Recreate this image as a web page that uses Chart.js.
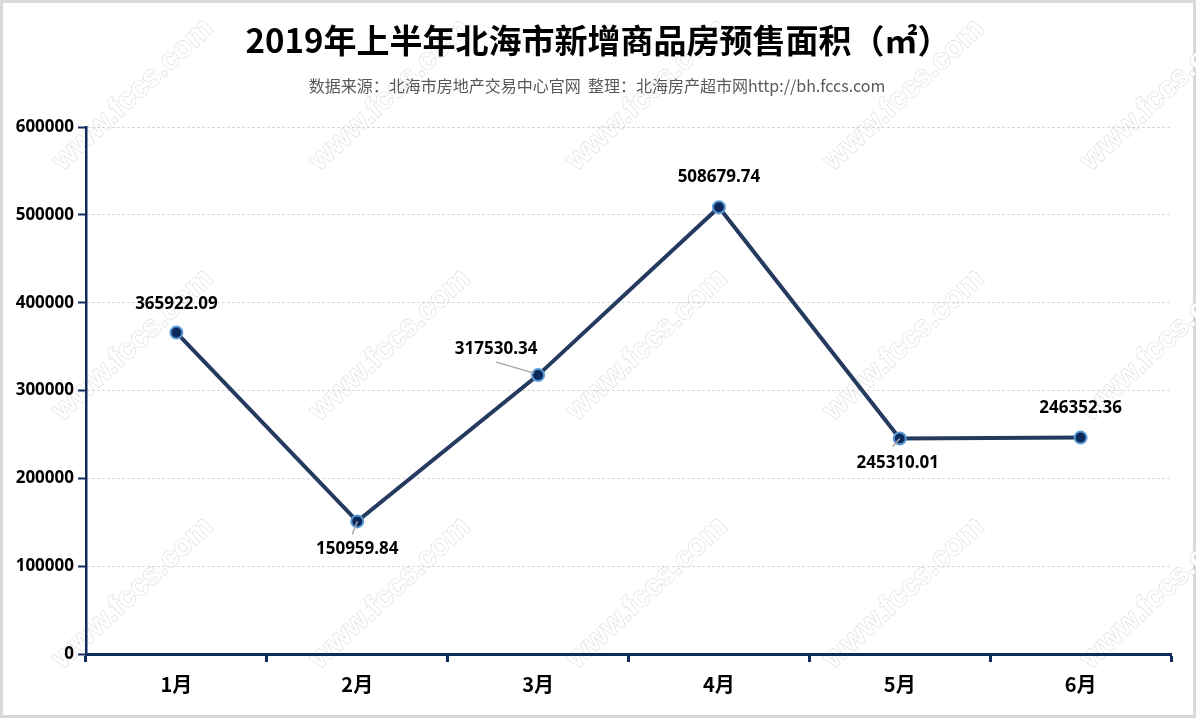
<!DOCTYPE html>
<html>
<head>
<meta charset="utf-8">
<script src="https://cdn.jsdelivr.net/npm/chart.js@4"></script>
<style>
  html, body { margin: 0; padding: 0; background: #fff; }
  canvas { display: block; }
</style>
</head>
<body>
<canvas id="c" width="1196" height="718"></canvas>
<script>
// ---- data ----
const titleText = '2019年上半年北海市新增商品房预售面积（㎡）';
const subtitleText = '数据来源：北海市房地产交易中心官网  整理：北海房产超市网http://bh.fccs.com';
const months = ['1月', '2月', '3月', '4月', '5月', '6月'];
const presaleArea = [365922.09, 150959.84, 317530.34, 508679.74, 245310.01, 246352.36];
const yTicks = [0, 100000, 200000, 300000, 400000, 500000, 600000];
const watermarkText = 'www.fccs.com';

// ---- styles ----
const NAVY = '#0f2a5c';
const labelOffsets = [
  {dx: 0, dy: -28},
  {dx: 0, dy: 28, lx: -5, ly: 13},
  {dx: -42, dy: -26, lx: -42, ly: -13, lsx: -4, lsy: -2},
  {dx: 0, dy: -30},
  {dx: -2, dy: 25, lx: -7, ly: 8},
  {dx: 0, dy: -29}
];

const framePlugin = {
  id: 'frame',
  beforeDraw(chart) {
    const ctx = chart.ctx;
    ctx.save();
    ctx.fillStyle = '#fff';
    ctx.fillRect(0, 0, chart.width, chart.height);
    ctx.strokeStyle = '#d9d9d9';
    ctx.lineWidth = 3;
    ctx.strokeRect(1.5, 1.5, chart.width - 3, chart.height - 3);
    // watermarks
    ctx.font = 'bold 30px "Liberation Sans", Arial, sans-serif';
    ctx.textAlign = 'center';
    ctx.textBaseline = 'middle';
    const xs = [133, 390, 647, 904, 1161];
    const ys = [95, 345, 593];
    ys.forEach(y => xs.forEach(x => {
      ctx.save();
      ctx.translate(x, y);
      ctx.rotate(-Math.PI / 4.2);
      ctx.lineWidth = 1.2;
      ctx.strokeStyle = 'rgba(190,190,190,0.55)';
      ctx.strokeText(watermarkText, 0, 0);
      ctx.fillStyle = 'rgba(255,255,255,1)';
      ctx.fillText(watermarkText, 0, 0);
      ctx.restore();
    }));
    // title
    ctx.fillStyle = '#000';
    ctx.font = 'bold 33px "Noto Sans CJK SC", sans-serif';
    ctx.fillText(titleText, 598, 40);
    ctx.fillStyle = '#595959';
    ctx.font = '16px "Noto Sans CJK SC", sans-serif';
    ctx.fillText(subtitleText, 597, 86);
    ctx.restore();
  }
};

const labelPlugin = {
  id: 'pointLabels',
  afterDatasetsDraw(chart) {
    const ctx = chart.ctx;
    const meta = chart.getDatasetMeta(0);
    ctx.save();
    meta.data.forEach((pt, i) => {
      const o = labelOffsets[i];
      if (o.lx !== undefined) {
        ctx.strokeStyle = '#a6a6a6';
        ctx.lineWidth = 1.5;
        ctx.beginPath();
        ctx.moveTo(pt.x + (o.lsx || 0), pt.y + (o.lsy || 0));
        ctx.lineTo(pt.x + o.lx, pt.y + o.ly);
        ctx.stroke();
      }
    });
    ctx.font = 'bold 17px "Noto Sans", sans-serif';
    ctx.fillStyle = '#000';
    ctx.textAlign = 'center';
    ctx.textBaseline = 'middle';
    meta.data.forEach((pt, i) => {
      const o = labelOffsets[i];
      ctx.fillText(String(presaleArea[i].toFixed(2)), pt.x + o.dx, pt.y + o.dy);
    });
    ctx.restore();
  }
};

new Chart(document.getElementById('c'), {
  type: 'line',
  data: {
    labels: months,
    datasets: [{
      data: presaleArea,
      borderColor: '#243a5e',
      borderWidth: 4,
      tension: 0,
      pointRadius: 6,
      pointHoverRadius: 6,
      pointBackgroundColor: '#0b2a5b',
      pointBorderColor: '#5b9bd5',
      pointBorderWidth: 2,
      fill: false
    }]
  },
  options: {
    responsive: false,
    animation: false,
    devicePixelRatio: 1,
    layout: { padding: { top: 127, left: 0, right: 25, bottom: 0 } },
    plugins: {
      legend: { display: false },
      title: { display: false },
      tooltip: { enabled: false }
    },
    scales: {
      x: {
        type: 'category',
        offset: true,
        afterFit(s) { s.height = 64; },
        grid: {
          offset: true,
          drawOnChartArea: false,
          drawTicks: true,
          tickLength: 8,
          tickColor: NAVY,
          tickWidth: 3
        },
        border: { display: true, color: NAVY, width: 3 },
        ticks: {
          color: '#000',
          padding: 10,
          font: { family: '"Noto Sans CJK SC", sans-serif', size: 20, weight: 'bold' }
        }
      },
      y: {
        min: 0,
        max: 600000,
        afterFit(s) { s.width = 86; },
        afterBuildTicks(s) { s.ticks = yTicks.map(v => ({ value: v })); },
        grid: {
          color: ctx => (ctx.tick && ctx.tick.value === 0) ? 'rgba(0,0,0,0)' : '#c8c8c8',
          lineWidth: 1,
          drawTicks: true,
          tickLength: 8,
          tickColor: NAVY,
          tickWidth: 2
        },
        border: { display: true, color: NAVY, width: 2.5, dash: [2, 3] },
        ticks: {
          color: '#000',
          padding: 4,
          font: { family: '"Noto Sans", sans-serif', size: 17, weight: 'bold' },
          callback: v => String(v)
        }
      }
    }
  },
  plugins: [framePlugin, labelPlugin]
});
</script>
</body>
</html>
